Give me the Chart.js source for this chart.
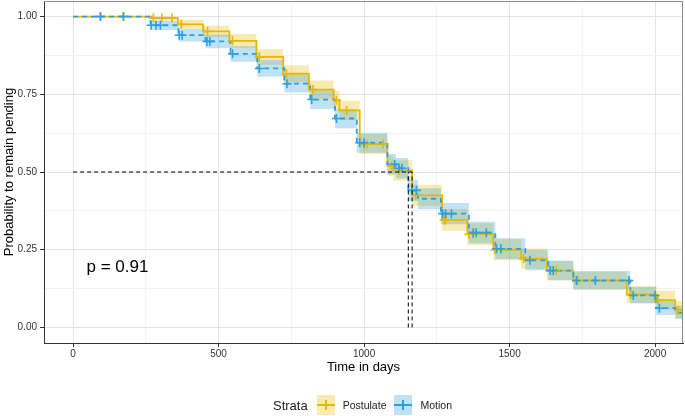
<!DOCTYPE html>
<html>
<head>
<meta charset="utf-8">
<script src="https://cdn.jsdelivr.net/npm/chart.js@4"></script>
<style>
    body { margin: 0; background: #fff; font-family: "Liberation Sans", Arial, sans-serif; }
    #wrap { position: relative; width: 685px; height: 416px; }
    #legend { position: absolute; left: 273px; top: 395px; height: 20px; display: flex; align-items: center; color: #222; }
    #legend .title { font-size: 13px; margin-right: 9px; }
    #legend .lab { font-size: 10.5px; margin-left: 8px; margin-right: 8px; }
    .key { position: relative; width: 18px; height: 20px; }
    .key .h { position: absolute; left: 0; right: 0; top: 9px; height: 2px; }
    .key .v { position: absolute; left: 8px; top: 5px; width: 2px; height: 10px; }
</style>
</head>
<body>
<div id="wrap">
    <canvas id="km" width="685" height="416"></canvas>
    <div id="legend">
        <span class="title">Strata</span>
        <span class="key" style="background: rgba(231,184,0,0.3)"><span class="h" style="background:#E7B800"></span><span class="v" style="background:#E7B800"></span></span>
        <span class="lab">Postulate</span>
        <span class="key" style="background: rgba(46,159,223,0.3)"><span class="h" style="background:#2E9FDF"></span><span class="v" style="background:#2E9FDF"></span></span>
        <span class="lab">Motion</span>
    </div>
</div>
<script>
// ===== Data =====
const postulateTimes = [0, 270, 360, 447, 537, 630, 722, 810, 895, 915, 985, 1080, 1100, 1165, 1268, 1355, 1444, 1540, 1628, 1719, 1903, 2006, 2069, 2096];
const postulateSurv  = [1.0, 0.995, 0.975, 0.952, 0.922, 0.870, 0.816, 0.765, 0.731, 0.698, 0.590, 0.520, 0.505, 0.425, 0.346, 0.300, 0.250, 0.221, 0.183, 0.151, 0.106, 0.088, 0.055, 0.055];
const postulateUpper = [1.0, 1.0, 0.990, 0.970, 0.944, 0.895, 0.843, 0.794, 0.761, 0.729, 0.622, 0.553, 0.538, 0.459, 0.381, 0.335, 0.284, 0.254, 0.214, 0.180, 0.133, 0.118, 0.085, 0.085];
const postulateLower = [1.0, 0.988, 0.960, 0.934, 0.900, 0.845, 0.789, 0.736, 0.701, 0.667, 0.558, 0.487, 0.472, 0.391, 0.311, 0.265, 0.216, 0.188, 0.152, 0.122, 0.079, 0.058, 0.030, 0.030];
const postulateCensored = [94, 173, 276, 305, 340, 372, 462, 548, 640, 733, 824, 905, 940, 1000, 1010, 1065, 1095, 1120, 1178, 1275, 1280, 1360, 1375, 1450, 1548, 1640, 1660, 1730, 1735, 1915, 2010, 2080];

const motionTimes = [0, 266, 362, 455, 541, 633, 726, 815, 900, 975, 1080, 1110, 1152, 1185, 1264, 1360, 1451, 1554, 1633, 1719, 1915, 2003, 2070, 2096];
const motionSurv  = [1.0, 0.972, 0.940, 0.920, 0.880, 0.833, 0.784, 0.733, 0.672, 0.594, 0.525, 0.512, 0.441, 0.414, 0.366, 0.305, 0.253, 0.216, 0.183, 0.151, 0.103, 0.062, 0.047, 0.047];
const motionUpper = [1.0, 0.987, 0.960, 0.942, 0.905, 0.860, 0.812, 0.763, 0.703, 0.626, 0.558, 0.545, 0.475, 0.448, 0.400, 0.340, 0.287, 0.249, 0.215, 0.181, 0.130, 0.087, 0.070, 0.070];
const motionLower = [1.0, 0.957, 0.920, 0.898, 0.855, 0.806, 0.756, 0.703, 0.641, 0.562, 0.492, 0.479, 0.407, 0.380, 0.332, 0.271, 0.220, 0.184, 0.152, 0.122, 0.077, 0.040, 0.027, 0.027];
const motionCensored = [94, 173, 268, 285, 300, 365, 375, 460, 470, 548, 640, 735, 820, 905, 985, 1000, 1105, 1120, 1130, 1165, 1180, 1270, 1280, 1300, 1375, 1385, 1420, 1455, 1470, 1570, 1640, 1650, 1730, 1795, 1910, 1925, 2000, 2015];

const medianTimes = [1165, 1152];   // Postulate, Motion
const pValueText = 'p = 0.91';

const xMajor = [0, 500, 1000, 1500, 2000];
const xMinor = [250, 750, 1250, 1750];
const yMajor = [0, 0.25, 0.5, 0.75, 1.0];
const yMinor = [0.125, 0.375, 0.625, 0.875];

// ===== Couleurs =====
const YELLOW = '#E7B800';
const BLUE = '#2E9FDF';
const YELLOW_BAND = 'rgba(231,184,0,0.3)';
const BLUE_BAND = 'rgba(46,159,223,0.3)';

function toPoints(xs, ys) {
    return xs.map((x, i) => ({ x: x, y: ys[i] }));
}

// survival value of a step curve at time t
function stepAt(times, surv, t) {
    let v = surv[0];
    for (let i = 0; i < times.length; i++) {
        if (times[i] <= t) v = surv[i];
    }
    return v;
}

function censorPoints(cens, times, surv) {
    return cens.map(t => ({ x: t, y: stepAt(times, surv, t) }));
}

const isMajor = (list, v) => list.some(m => Math.abs(m - v) < 1e-9);

const medianDash = { borderColor: '#000', borderWidth: 1, borderDash: [4, 3], pointRadius: 0, fill: false, order: 0 };

const datasets = [
    { data: toPoints(postulateTimes, postulateUpper), stepped: 'before', borderWidth: 0, pointRadius: 0, backgroundColor: YELLOW_BAND, fill: '+1', order: 10 },
    { data: toPoints(postulateTimes, postulateLower), stepped: 'before', borderWidth: 0, pointRadius: 0, fill: false, order: 10 },
    { data: toPoints(motionTimes, motionUpper), stepped: 'before', borderWidth: 0, pointRadius: 0, backgroundColor: BLUE_BAND, fill: '+1', order: 9 },
    { data: toPoints(motionTimes, motionLower), stepped: 'before', borderWidth: 0, pointRadius: 0, fill: false, order: 9 },
    { data: toPoints(postulateTimes, postulateSurv), stepped: 'before', borderColor: YELLOW, borderWidth: 1.8, pointRadius: 0, fill: false, order: 5 },
    { data: toPoints(motionTimes, motionSurv), stepped: 'before', borderColor: BLUE, borderWidth: 1.8, borderDash: [5, 4], pointRadius: 0, fill: false, order: 4 },
    { data: censorPoints(postulateCensored, postulateTimes, postulateSurv), showLine: false, pointStyle: 'cross', pointRadius: 4.5, pointBorderWidth: 1.6, pointBorderColor: YELLOW, order: 3 },
    { data: censorPoints(motionCensored, motionTimes, motionSurv), showLine: false, pointStyle: 'cross', pointRadius: 4.5, pointBorderWidth: 1.6, pointBorderColor: BLUE, order: 2 },
    Object.assign({ data: [{ x: 0, y: 0.5 }, { x: Math.max(...medianTimes), y: 0.5 }] }, medianDash),
    Object.assign({ data: [{ x: medianTimes[0], y: 0 }, { x: medianTimes[0], y: 0.5 }] }, medianDash),
    Object.assign({ data: [{ x: medianTimes[1], y: 0 }, { x: medianTimes[1], y: 0.5 }] }, medianDash)
];

// panel frame + p value
const panelPlugin = {
    id: 'panel',
    afterDatasetsDraw(chart) {
        const { ctx, chartArea: a, scales } = chart;
        ctx.save();
        ctx.font = '17px "Liberation Sans", Arial, sans-serif';
        ctx.fillStyle = '#000';
        ctx.textBaseline = 'middle';
        ctx.fillText(pValueText, scales.x.getPixelForValue(46), scales.y.getPixelForValue(0.194));
        ctx.strokeStyle = '#8c8c8c';
        ctx.lineWidth = 1;
        ctx.beginPath();
        ctx.moveTo(a.left, a.top + 0.5);
        ctx.lineTo(a.right - 0.5, a.top + 0.5);
        ctx.lineTo(a.right - 0.5, a.bottom);
        ctx.stroke();
        ctx.restore();
    }
};

const tickFont = { family: '"Liberation Sans", Arial, sans-serif', size: 10 };
const titleFont = { family: '"Liberation Sans", Arial, sans-serif', size: 13 };

new Chart(document.getElementById('km'), {
    type: 'line',
    data: { datasets: datasets },
    options: {
        responsive: false,
        animation: false,
        events: [],
        layout: { autoPadding: false, padding: { top: 1, right: 2, bottom: 38, left: 0 } },
        plugins: { legend: { display: false }, tooltip: { enabled: false } },
        scales: {
            x: {
                type: 'linear',
                min: -100,
                max: 2096,
                afterBuildTicks: s => { s.ticks = xMajor.concat(xMinor).sort((a, b) => a - b).map(v => ({ value: v })); },
                afterFit: s => { s.height = 35; s.paddingLeft = 0; s.paddingRight = 0; },
                ticks: {
                    color: '#333',
                    font: tickFont,
                    padding: 1,
                    maxRotation: 0,
                    autoSkip: false,
                    callback: v => isMajor(xMajor, v) ? String(v) : ''
                },
                grid: {
                    color: c => isMajor(xMajor, c.tick.value) ? '#e4e4e4' : '#f2f2f2',
                    tickColor: c => isMajor(xMajor, c.tick.value) ? '#333' : 'rgba(0,0,0,0)',
                    tickLength: 4
                },
                border: { color: '#333', width: 1 },
                title: { display: true, text: 'Time in days', color: '#000', font: titleFont, padding: { top: 0, bottom: 3 } }
            },
            y: {
                type: 'linear',
                min: -0.05,
                max: 1.05,
                afterBuildTicks: s => { s.ticks = yMajor.concat(yMinor).sort((a, b) => a - b).map(v => ({ value: v })); },
                afterFit: s => { s.width = 44; s.paddingTop = 0; s.paddingBottom = 0; },
                ticks: {
                    color: '#333',
                    font: tickFont,
                    padding: 3,
                    autoSkip: false,
                    callback: v => isMajor(yMajor, v) ? v.toFixed(2) : ''
                },
                grid: {
                    color: c => isMajor(yMajor, c.tick.value) ? '#e4e4e4' : '#f2f2f2',
                    tickColor: c => isMajor(yMajor, c.tick.value) ? '#333' : 'rgba(0,0,0,0)',
                    tickLength: 4
                },
                border: { color: '#333', width: 1 },
                title: { display: true, text: 'Probability to remain pending', color: '#000', font: titleFont, padding: { top: 2, bottom: 0 } }
            }
        }
    },
    plugins: [panelPlugin]
});
</script>
</body>
</html>
